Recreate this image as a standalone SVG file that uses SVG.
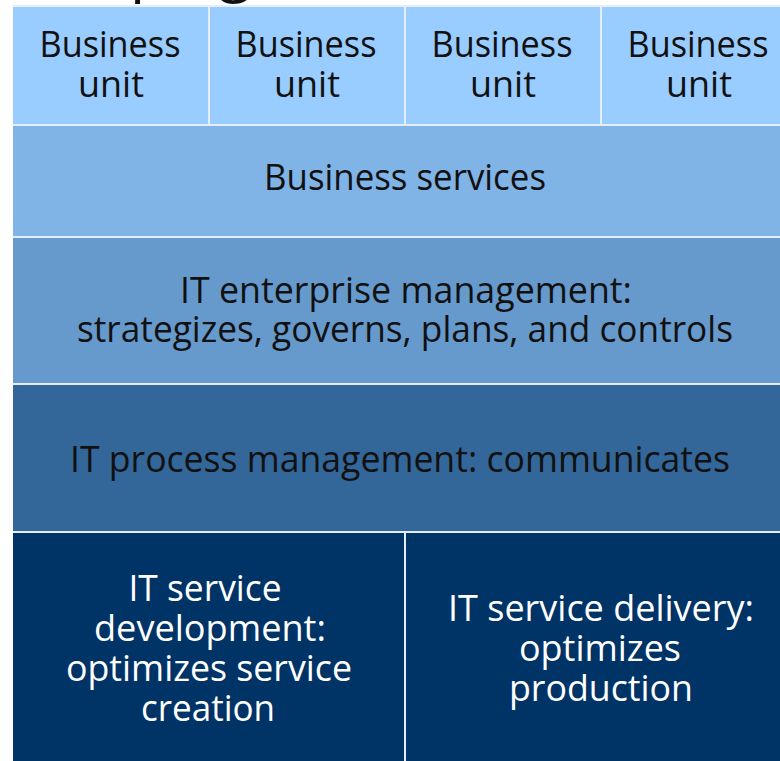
<svg xmlns="http://www.w3.org/2000/svg" width="780" height="761" viewBox="0 0 780 761">
  <style>
    .lbl { font-family: "Open Sans", "Noto Sans", "Liberation Sans", sans-serif; font-size: 37px; text-anchor: middle; }
    .dark { fill: #111111; }
    .light { fill: #ffffff; }
    .unit { fill: #99ccff; }
    .biz { fill: #80b3e6; }
    .ent { fill: #6699cc; }
    .proc { fill: #336699; }
    .svc { fill: #003366; }
  </style>
  <rect width="780" height="761" fill="#ffffff"/>
  <!-- heading line running off the top edge -->
  <text x="130" y="-10" font-family="'Open Sans', 'Noto Sans', sans-serif" font-size="60" fill="#111111">ping</text>
  <!-- pale seams between the blocks -->
  <rect x="13" y="5" width="790" height="760" fill="#e4eef8"/>

  <g id="business-unit-1">
    <rect class="unit" x="13" y="7" width="195" height="117"/>
    <text class="lbl dark" x="110" y="57" textLength="141" lengthAdjust="spacingAndGlyphs">Business</text>
    <text class="lbl dark" x="111" y="97" textLength="66" lengthAdjust="spacingAndGlyphs">unit</text>
  </g>
  <g id="business-unit-2">
    <rect class="unit" x="210" y="7" width="194" height="117"/>
    <text class="lbl dark" x="306" y="57" textLength="141" lengthAdjust="spacingAndGlyphs">Business</text>
    <text class="lbl dark" x="307" y="97" textLength="66" lengthAdjust="spacingAndGlyphs">unit</text>
  </g>
  <g id="business-unit-3">
    <rect class="unit" x="406" y="7" width="194" height="117"/>
    <text class="lbl dark" x="502" y="57" textLength="141" lengthAdjust="spacingAndGlyphs">Business</text>
    <text class="lbl dark" x="503" y="97" textLength="66" lengthAdjust="spacingAndGlyphs">unit</text>
  </g>
  <g id="business-unit-4">
    <rect class="unit" x="602" y="7" width="200" height="117"/>
    <text class="lbl dark" x="698" y="57" textLength="141" lengthAdjust="spacingAndGlyphs">Business</text>
    <text class="lbl dark" x="699" y="97" textLength="66" lengthAdjust="spacingAndGlyphs">unit</text>
  </g>

  <g id="business-services">
    <rect class="biz" x="13" y="126" width="790" height="110"/>
    <text class="lbl dark" x="405" y="190" textLength="282" lengthAdjust="spacingAndGlyphs">Business services</text>
  </g>

  <g id="it-enterprise-management">
    <rect class="ent" x="13" y="238" width="790" height="145"/>
    <text class="lbl dark" x="406" y="303" textLength="452" lengthAdjust="spacingAndGlyphs">IT enterprise management:</text>
    <text class="lbl dark" x="405" y="342" textLength="656" lengthAdjust="spacingAndGlyphs">strategizes, governs, plans, and controls</text>
  </g>

  <g id="it-process-management">
    <rect class="proc" x="13" y="385" width="790" height="146"/>
    <text class="lbl dark" x="400" y="472" textLength="660" lengthAdjust="spacingAndGlyphs">IT process management: communicates</text>
  </g>

  <g id="it-service-development">
    <rect class="svc" x="13" y="533" width="391" height="230"/>
    <text class="lbl light" x="205" y="601" textLength="153" lengthAdjust="spacingAndGlyphs">IT service</text>
    <text class="lbl light" x="210" y="641" textLength="232" lengthAdjust="spacingAndGlyphs">development:</text>
    <text class="lbl light" x="209" y="681" textLength="286" lengthAdjust="spacingAndGlyphs">optimizes service</text>
    <text class="lbl light" x="208" y="721" textLength="134" lengthAdjust="spacingAndGlyphs">creation</text>
  </g>

  <g id="it-service-delivery">
    <rect class="svc" x="406" y="533" width="397" height="230"/>
    <text class="lbl light" x="601" y="621" textLength="306" lengthAdjust="spacingAndGlyphs">IT service delivery:</text>
    <text class="lbl light" x="600" y="661" textLength="162" lengthAdjust="spacingAndGlyphs">optimizes</text>
    <text class="lbl light" x="601" y="701" textLength="184" lengthAdjust="spacingAndGlyphs">production</text>
  </g>
</svg>
